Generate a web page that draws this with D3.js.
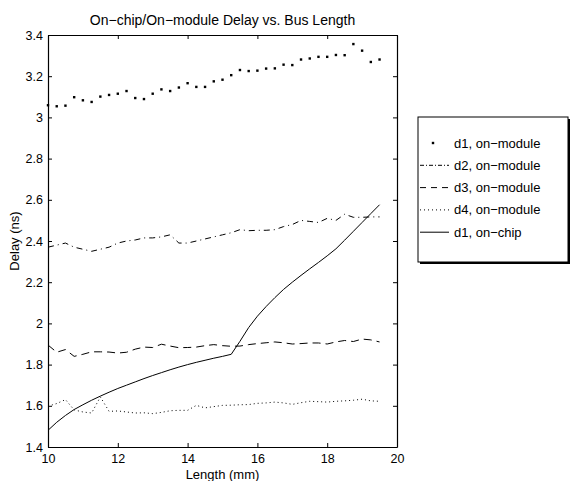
<!DOCTYPE html>
<html>
<head>
<meta charset="utf-8">
<script src="https://cdn.jsdelivr.net/npm/d3@7"></script>
<style>
  body { margin: 0; background: #fff; }
  svg { display: block; font-family: "Liberation Sans", Arial, Helvetica, sans-serif; }
</style>
</head>
<body>
<div id="chart"></div>
<script>
const lengths = [10, 10.25, 10.5, 10.75, 11, 11.25, 11.5, 11.75, 12, 12.25, 12.5, 12.75, 13,
  13.25, 13.5, 13.75, 14, 14.25, 14.5, 14.75, 15, 15.25, 15.5, 15.75, 16, 16.25, 16.5,
  16.75, 17, 17.25, 17.5, 17.75, 18, 18.25, 18.5, 18.75, 19, 19.25, 19.5]

const d1Module = [3.059, 3.054, 3.057, 3.098, 3.083, 3.075, 3.101, 3.109, 3.115, 3.128, 3.094,
  3.089, 3.115, 3.136, 3.128, 3.145, 3.166, 3.148, 3.148, 3.175, 3.183, 3.205, 3.230, 3.225,
  3.227, 3.237, 3.238, 3.256, 3.254, 3.281, 3.286, 3.294, 3.294, 3.303, 3.302, 3.356, 3.324,
  3.269, 3.281]

const d2Module = [2.37, 2.38, 2.39, 2.37, 2.36, 2.35, 2.36, 2.37, 2.39, 2.40, 2.405, 2.415,
  2.415, 2.42, 2.43, 2.39, 2.39, 2.40, 2.41, 2.42, 2.43, 2.44, 2.455, 2.45, 2.452, 2.452,
  2.455, 2.47, 2.48, 2.50, 2.495, 2.49, 2.51, 2.50, 2.53, 2.515, 2.515, 2.517, 2.517]

const d3Module = [1.895, 1.86, 1.873, 1.84, 1.85, 1.862, 1.862, 1.861, 1.856, 1.86, 1.875,
  1.885, 1.883, 1.899, 1.89, 1.882, 1.883, 1.885, 1.892, 1.897, 1.892, 1.889, 1.89, 1.897,
  1.902, 1.906, 1.91, 1.906, 1.90, 1.902, 1.905, 1.905, 1.90, 1.91, 1.917, 1.912, 1.924,
  1.92, 1.91]

const d4Module = [1.598, 1.611, 1.63, 1.58, 1.57, 1.565, 1.643, 1.573, 1.575, 1.57, 1.565,
  1.566, 1.562, 1.568, 1.576, 1.578, 1.578, 1.602, 1.59, 1.596, 1.602, 1.603, 1.605, 1.606,
  1.612, 1.614, 1.618, 1.614, 1.607, 1.615, 1.622, 1.62, 1.618, 1.622, 1.624, 1.627, 1.632,
  1.624, 1.622]

const d1Chip = [1.481, 1.52, 1.553, 1.582, 1.605, 1.627, 1.647, 1.666, 1.684, 1.70, 1.716,
  1.732, 1.747, 1.761, 1.775, 1.788, 1.80, 1.811, 1.821, 1.831, 1.84, 1.85, 1.913, 1.98,
  2.035, 2.082, 2.125, 2.165, 2.20, 2.233, 2.265, 2.296, 2.328, 2.362, 2.404, 2.447, 2.49,
  2.533, 2.576]

const xTicks = [10, 12, 14, 16, 18, 20]
const yTicks = [1.4, 1.6, 1.8, 2, 2.2, 2.4, 2.6, 2.8, 3, 3.2, 3.4]

const seriesNames = ["d1, on\u2212module", "d2, on\u2212module", "d3, on\u2212module", "d4, on\u2212module", "d1, on\u2212chip"]

const width = 574
const height = 481
const margin = { top: 35, right: 177, bottom: 34, left: 48 }

const svg = d3.select("#chart")
  .append("svg")
  .attr("width", width)
  .attr("height", height)

const x = d3.scaleLinear().domain([10, 20]).range([margin.left, width - margin.right])
const y = d3.scaleLinear().domain([1.4, 3.4]).range([height - margin.bottom, margin.top])

const fmt = d => d3.format("~g")(d)

// axes, ticks pointing inward on all four sides
svg.append("g")
  .attr("transform", `translate(0,${y(1.4)})`)
  .call(d3.axisBottom(x).tickValues(xTicks).tickFormat(fmt).tickSizeInner(-4).tickSizeOuter(0).tickPadding(7))
svg.append("g")
  .attr("transform", `translate(0,${y(3.4)})`)
  .call(d3.axisTop(x).tickValues(xTicks).tickFormat("").tickSizeInner(-4).tickSizeOuter(0))
svg.append("g")
  .attr("transform", `translate(${x(10)},0)`)
  .call(d3.axisLeft(y).tickValues(yTicks).tickFormat(fmt).tickSizeInner(-4).tickSizeOuter(0).tickPadding(5))
svg.append("g")
  .attr("transform", `translate(${x(20)},0)`)
  .call(d3.axisRight(y).tickValues(yTicks).tickFormat("").tickSizeInner(-4).tickSizeOuter(0))

svg.selectAll(".domain").attr("stroke", "#000").attr("stroke-width", 1.2)
svg.selectAll(".tick line").attr("stroke", "#000")
svg.selectAll(".tick text").attr("fill", "#000").attr("font-size", 12.5).attr("font-family", null)

// titles
svg.append("text")
  .attr("x", (x(10) + x(20)) / 2)
  .attr("y", 25)
  .attr("text-anchor", "middle")
  .attr("font-size", 14)
  .text("On\u2212chip/On\u2212module Delay vs. Bus Length")

svg.append("text")
  .attr("x", (x(10) + x(20)) / 2)
  .attr("y", 479)
  .attr("text-anchor", "middle")
  .attr("font-size", 13)
  .text("Length (mm)")

svg.append("text")
  .attr("transform", `translate(19,${(y(1.4) + y(3.4)) / 2}) rotate(-90)`)
  .attr("text-anchor", "middle")
  .attr("font-size", 13)
  .text("Delay (ns)")

// lines
const plot = svg.append("g")
const line = d3.line().x((d, i) => x(lengths[i])).y(d => y(d))

const lineSeries = [
  { values: d2Module, dash: "6,4,1,4" },
  { values: d3Module, dash: "8,5" },
  { values: d4Module, dash: "1,3" },
  { values: d1Chip, dash: null }
]

plot.selectAll("path.series")
  .data(lineSeries)
  .join("path")
  .attr("class", "series")
  .attr("d", d => line(d.values))
  .attr("fill", "none")
  .attr("stroke", "#000")
  .attr("stroke-width", 1)
  .attr("stroke-dasharray", d => d.dash)

plot.selectAll("rect.dot")
  .data(d1Module)
  .join("rect")
  .attr("class", "dot")
  .attr("x", (d, i) => x(lengths[i]) - 1.2)
  .attr("y", d => y(d) - 1.2)
  .attr("width", 2.4)
  .attr("height", 2.4)
  .attr("fill", "#000")

// legend
const legend = svg.append("g")
legend.append("rect")
  .attr("x", 420)
  .attr("y", 119)
  .attr("width", 150)
  .attr("height", 145)
  .attr("fill", "#000")
legend.append("rect")
  .attr("x", 418)
  .attr("y", 117)
  .attr("width", 150)
  .attr("height", 145)
  .attr("fill", "#fff")
  .attr("stroke", "#000")
  .attr("stroke-width", 1)

const rowY = i => 143 + i * 22.3
const legendStyles = [
  { dash: null, marker: true },
  { dash: "4,2,1,2" },
  { dash: "6,5" },
  { dash: "1,3" },
  { dash: null }
]

seriesNames.forEach((name, i) => {
  const st = legendStyles[i]
  if (st.marker) {
    legend.append("rect")
      .attr("x", 433 - 1.2).attr("y", rowY(i) - 1.2)
      .attr("width", 2.4).attr("height", 2.4)
      .attr("fill", "#000")
  } else {
    legend.append("line")
      .attr("x1", 420).attr("x2", 449)
      .attr("y1", rowY(i)).attr("y2", rowY(i))
      .attr("stroke", "#000")
      .attr("stroke-dasharray", st.dash)
  }
  legend.append("text")
    .attr("x", 454)
    .attr("y", rowY(i))
    .attr("dy", "0.35em")
    .attr("font-size", 13)
    .text(name)
})
</script>
</body>
</html>
